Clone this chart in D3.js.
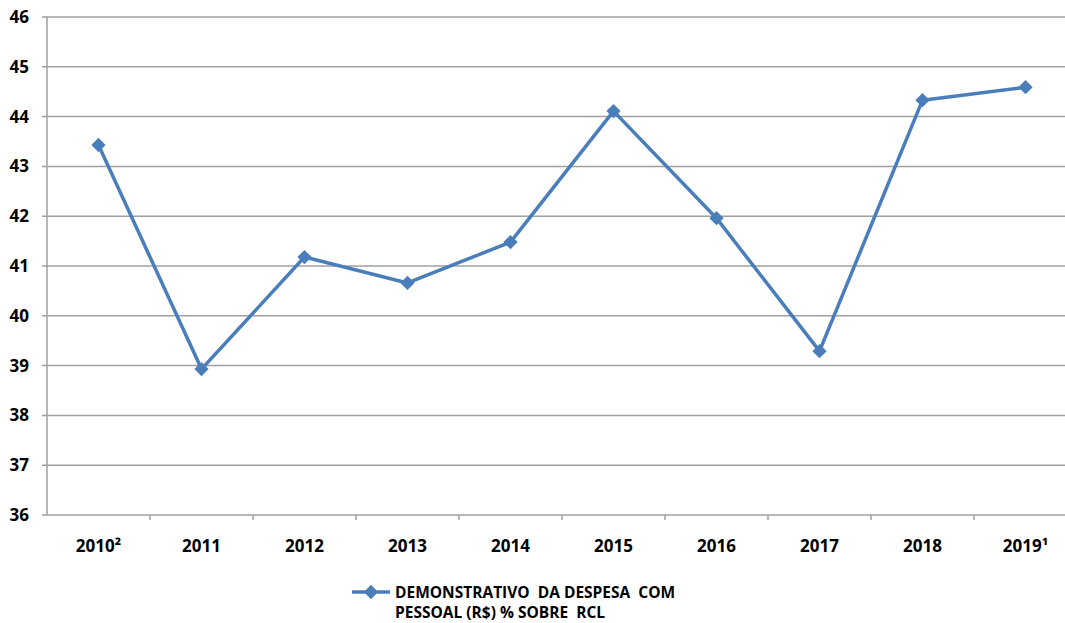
<!DOCTYPE html>
<html>
<head>
<meta charset="utf-8">
<script src="https://cdn.jsdelivr.net/npm/d3@7"></script>
<style>
  body { margin: 0; background: #fff; overflow: hidden; }
  text { font-family: "Open Sans", "Liberation Sans", sans-serif; font-weight: bold; fill: #000; }
</style>
</head>
<body>
<div id="chart"></div>
<script>
const years = ["2010²", "2011", "2012", "2013", "2014", "2015", "2016", "2017", "2018", "2019¹"];
const values = [43.43, 38.93, 41.18, 40.66, 41.48, 44.11, 41.96, 39.29, 44.33, 44.59];
const yTicks = [36, 37, 38, 39, 40, 41, 42, 43, 44, 45, 46];
const seriesName = ["DEMONSTRATIVO  DA DESPESA  COM", "PESSOAL (R$) % SOBRE  RCL"];

const width = 1065, height = 623;
const margin = { top: 17, left: 47 };
const plotW = 1030, plotH = 498;
const lineColor = "#4a7ebb";

const svg = d3.select("#chart").append("svg")
  .attr("width", width)
  .attr("height", height);

const x = d3.scaleBand().domain(years).range([margin.left, margin.left + plotW]);
const y = d3.scaleLinear().domain([36, 46]).range([margin.top + plotH, margin.top]);

// gridlines
svg.append("g").selectAll("line")
  .data(yTicks)
  .enter().append("line")
  .attr("x1", margin.left - 5)
  .attr("x2", margin.left + plotW)
  .attr("y1", d => y(d))
  .attr("y2", d => y(d))
  .attr("stroke", "#a0a0a0")
  .attr("stroke-width", 1.5);

// y axis line
svg.append("line")
  .attr("x1", margin.left).attr("x2", margin.left)
  .attr("y1", y(46)).attr("y2", y(36))
  .attr("stroke", "#a0a0a0").attr("stroke-width", 1.5);

// x ticks
svg.append("g").selectAll("line")
  .data(years.slice(1))
  .enter().append("line")
  .attr("x1", d => x(d)).attr("x2", d => x(d))
  .attr("y1", y(36)).attr("y2", y(36) + 5)
  .attr("stroke", "#a0a0a0").attr("stroke-width", 1.5);

// y labels
svg.append("g").selectAll("text")
  .data(yTicks)
  .enter().append("text")
  .attr("x", 29)
  .attr("y", d => y(d))
  .attr("dy", "0.35em")
  .attr("text-anchor", "end")
  .style("font-size", "17px")
  .text(d => d);

// x labels
svg.append("g").selectAll("text")
  .data(years)
  .enter().append("text")
  .attr("x", d => x(d) + x.bandwidth() / 2)
  .attr("y", 552)
  .attr("text-anchor", "middle")
  .style("font-size", "17px")
  .text(d => d);

const pts = years.map((d, i) => [x(d) + x.bandwidth() / 2, y(values[i])]);

svg.append("path")
  .attr("d", d3.line()(pts))
  .attr("fill", "none")
  .attr("stroke", lineColor)
  .attr("stroke-width", 3.5)
  .attr("stroke-linejoin", "round");

const diamond = d3.symbol().type(d3.symbolDiamond2).size(130);
svg.append("g").selectAll("path")
  .data(pts)
  .enter().append("path")
  .attr("d", diamond)
  .attr("transform", d => `translate(${d[0]},${d[1]})`)
  .attr("fill", lineColor);

// legend
const lg = svg.append("g");
lg.append("line")
  .attr("x1", 352).attr("x2", 390)
  .attr("y1", 592).attr("y2", 592)
  .attr("stroke", lineColor).attr("stroke-width", 3.5);
lg.append("path")
  .attr("d", diamond)
  .attr("transform", "translate(371,592)")
  .attr("fill", lineColor);
lg.selectAll("text")
  .data(seriesName)
  .enter().append("text")
  .attr("x", 395)
  .attr("y", (d, i) => 598 + i * 20)
  .style("font-size", "15.5px")
  .style("white-space", "pre")
  .attr("xml:space", "preserve")
  .text(d => d);
</script>
</body>
</html>
